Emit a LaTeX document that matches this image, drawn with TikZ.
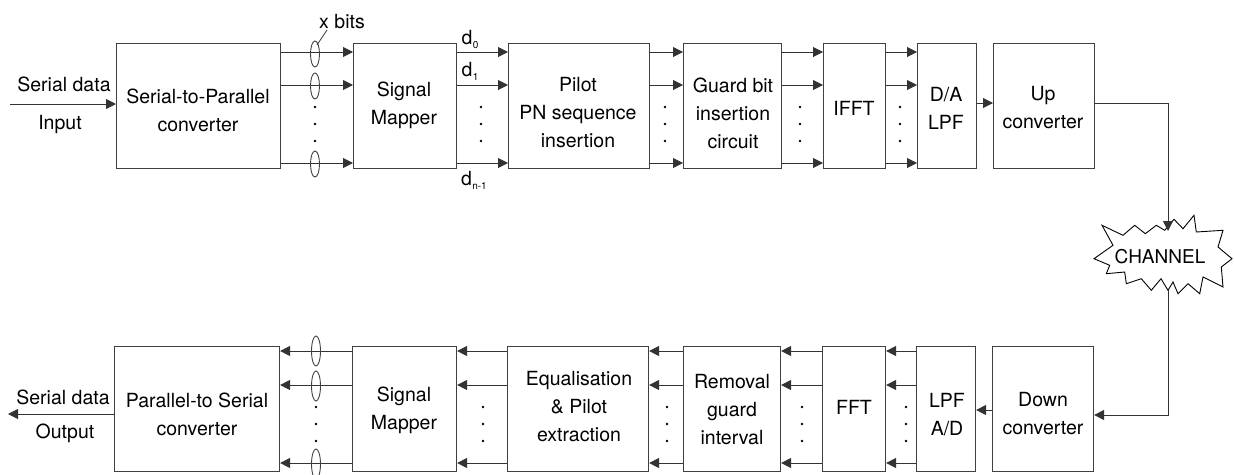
\documentclass[tikz,border=0pt]{standalone}
\usepackage{fontspec}
\setmainfont{TeX Gyre Heros}
\usetikzlibrary{arrows.meta}
\begin{document}
\begin{tikzpicture}[x=1pt,y=-1pt,
  box/.style={draw=black!75,line width=1.1pt,anchor=north west,inner sep=0pt,minimum height=125pt},
  lbl/.style={font=\fontsize{19.5}{28}\selectfont,align=center,inner sep=0pt},
  arr/.style={draw=black!80,line width=1pt,-{Triangle[length=10pt,width=10pt]}},
  ln/.style={draw=black!80,line width=1pt},
  ell/.style={draw=black!75,line width=0.9pt},
  dotc/.style={fill=black}
]
\useasboundingbox (0,0) rectangle (1234,474);
% ---------------- top row boxes
\node[box,minimum width=164pt] (sp) at (116,43) {};
\node[box,minimum width=103pt] (smA) at (353,43) {};
\node[box,minimum width=141pt] (pilot) at (508,43) {};
\node[box,minimum width=98pt] (guard) at (683,43) {};
\node[box,minimum width=62pt] (ifft) at (823,43) {};
\node[box,minimum width=59pt] (da) at (917,43) {};
\node[box,minimum width=101pt] (up) at (993,43) {};
% ---------------- bottom row boxes
\node[box,minimum width=165pt] (ps) at (114,346) {};
\node[box,minimum width=104pt] (smB) at (352,346) {};
\node[box,minimum width=141pt] (eq) at (507,346) {};
\node[box,minimum width=97pt] (rem) at (683,346) {};
\node[box,minimum width=63pt] (fft) at (822,346) {};
\node[box,minimum width=59pt] (lpf) at (916,346) {};
\node[box,minimum width=101pt] (down) at (992,346) {};
% ---------------- box texts
\node[lbl] (spT) at (198,110) {Serial-to-Parallel\\converter};
\node[lbl] (smAT) at (404,105) {Signal\\Mapper};
\node[lbl] (pilotT) at (578,113) {Pilot\\PN sequence\\insertion};
\node[lbl] (guardT) at (733,113.5) {Guard bit\\insertion\\circuit};
\node[lbl] (ifftT) at (854,108.5) {IFFT};
\node[lbl] (daT) at (946,108) {D/A\\LPF};
\node[lbl] (upT) at (1043,108) {Up\\converter};
\node[lbl] (psT) at (197,414) {Parallel-to Serial\\converter};
\node[lbl] (smBT) at (404,410) {Signal\\Mapper};
\node[lbl] (eqT) at (579,407) {Equalisation\\\& Pilot\\extraction};
\node[lbl] (remT) at (732,409.5) {Removal\\guard\\interval};
\node[lbl] (fftT) at (854,407) {FFT};
\node[lbl] (lpfT) at (947,415) {LPF\\A/D};
\node[lbl] (downT) at (1043,414) {Down\\converter};
% ---------------- side labels
\node[lbl] (sdIn) at (64,84) {Serial data};
\node[lbl] (inp) at (60,125) {Input};
\node[lbl] (sdOut) at (63,397) {Serial data};
\node[lbl] (outp) at (65,433) {Output};
\coordinate (inL) at (10,104);
\coordinate (outL) at (8,414);
\draw[arr] (inL) -- (sp.west |- inL);
\draw[arr] (ps.west |- outL) -- (outL);
% ---------------- row line levels
\coordinate (ta) at (0,52);
\coordinate (tb) at (0,85);
\coordinate (tc) at (0,163);
\coordinate (ba) at (0,351);
\coordinate (bb) at (0,385);
\coordinate (bc) at (0,463);
% top connections
\foreach \s/\t in {sp/smA,smA/pilot,pilot/guard,guard/ifft,ifft/da}{
  \foreach \l in {ta,tb,tc}{
    \draw[arr] (\s.east |- \l) -- (\t.west |- \l);
  }
}
\coordinate (daup) at (0,103);
\draw[arr] (da.east |- daup) -- (up.west |- daup);
% bottom connections
\foreach \s/\t in {smB/ps,eq/smB,rem/eq,fft/rem,lpf/fft}{
  \foreach \l in {ba,bb,bc}{
    \draw[arr] (\s.west |- \l) -- (\t.east |- \l);
  }
}
\coordinate (dnlp) at (0,410);
\draw[arr] (down.west |- dnlp) -- (lpf.east |- dnlp);
% ---------------- dots
\foreach \x in {315,481,665,800,900}{
  \foreach \y in {107,124,141}{ \fill[dotc] (\x,\y) circle (1.3pt); }
}
\foreach \x in {316,483,667,802,906}{
  \foreach \y in {407,424,441}{ \fill[dotc] (\x,\y) circle (1.3pt); }
}
% ---------------- ellipses
\foreach \y in {54,86,164}{ \draw[ell] (315,\y) ellipse [x radius=4.5pt, y radius=13pt]; }
\foreach \y in {351,386,464}{ \draw[ell] (316,\y) ellipse [x radius=4.5pt, y radius=15pt]; }
\node[lbl] (xbits) at (342,22) {x bits};
\coordinate (xbA) at (327,30);
\coordinate (xbB) at (317,45);
\draw[ln,line width=0.8pt] (xbA) -- (xbB);
% ---------------- d labels
\node[lbl] (d0) at (470,39) {d\kern0.3pt\raisebox{-4pt}{\fontsize{10}{10}\selectfont 0}};
\node[lbl] (d1) at (470,71) {d\kern0.3pt\raisebox{-4pt}{\fontsize{10}{10}\selectfont 1}};
\node[lbl] (dn) at (474,180) {d\kern0.3pt\raisebox{-4pt}{\fontsize{10}{10}\selectfont n-1}};
% ---------------- channel
\draw[draw=black,line width=0.9pt]
 (1094,258.7) -- (1113,245.3) -- (1102,225.3) -- (1123,235.3) -- (1134.7,225.3)
 -- (1145.3,233.7) -- (1156.3,225.3) -- (1164.7,230.3) -- (1174,219.3) -- (1183,228.7)
 -- (1194,215.3) -- (1196.3,232) -- (1223,230.3) -- (1218,247) -- (1232,258.7)
 -- (1221.3,267) -- (1223,287) -- (1203,277) -- (1199.7,293.7) -- (1188,283.7)
 -- (1178,293.7) -- (1173,282) -- (1168,290.3) -- (1161,278.7) -- (1151.3,290.3)
 -- (1141.3,278.7) -- (1126.3,283.7) -- (1124.7,272) -- (1106.3,273.7) -- (1109.7,265.3)
 -- cycle;
\node[lbl,font=\fontsize{19}{22}\selectfont] (chan) at (1160,257) {CHANNEL};
\coordinate (chIn) at (1168,231);
\coordinate (chOut) at (1168,290);
\coordinate (upOut) at (0,103);
\coordinate (dnIn) at (0,415);
\draw[arr] (up.east |- upOut) -| (chIn);
\draw[arr] (chOut) |- (down.east |- dnIn);
\end{tikzpicture}
\end{document}
